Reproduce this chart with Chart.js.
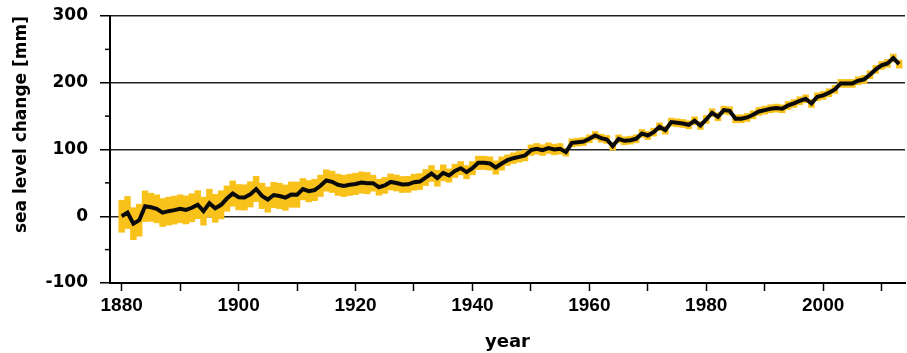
<!DOCTYPE html>
<html>
<head>
<meta charset="utf-8">
<script src="https://cdn.jsdelivr.net/npm/chart.js@4.4.1/dist/chart.umd.min.js"></script>
<style>
  html, body { margin: 0; padding: 0; background: #fff; }
  #wrap { width: 907px; height: 353px; }
</style>
</head>
<body>
<div id="wrap"><canvas id="sea-chart"></canvas></div>
<script>
const years = [
  1880, 1881, 1882, 1883, 1884, 1885, 1886, 1887, 1888, 1889,
  1890, 1891, 1892, 1893, 1894, 1895, 1896, 1897, 1898, 1899,
  1900, 1901, 1902, 1903, 1904, 1905, 1906, 1907, 1908, 1909,
  1910, 1911, 1912, 1913, 1914, 1915, 1916, 1917, 1918, 1919,
  1920, 1921, 1922, 1923, 1924, 1925, 1926, 1927, 1928, 1929,
  1930, 1931, 1932, 1933, 1934, 1935, 1936, 1937, 1938, 1939,
  1940, 1941, 1942, 1943, 1944, 1945, 1946, 1947, 1948, 1949,
  1950, 1951, 1952, 1953, 1954, 1955, 1956, 1957, 1958, 1959,
  1960, 1961, 1962, 1963, 1964, 1965, 1966, 1967, 1968, 1969,
  1970, 1971, 1972, 1973, 1974, 1975, 1976, 1977, 1978, 1979,
  1980, 1981, 1982, 1983, 1984, 1985, 1986, 1987, 1988, 1989,
  1990, 1991, 1992, 1993, 1994, 1995, 1996, 1997, 1998, 1999,
  2000, 2001, 2002, 2003, 2004, 2005, 2006, 2007, 2008, 2009,
  2010, 2011, 2012, 2013
];

// sea level change in mm (relative to 1880)
const seaLevel = [
  0, 5.6, -11.2, -5.9, 15.0, 13.5, 11.1, 5.5, 7.6, 9.2,
  11.2, 9.5, 12.7, 17.4, 7.7, 19.5, 11.9, 17.1, 26.5, 34.0,
  28.6, 28.2, 32.8, 40.8, 30.5, 25.0, 31.8, 30.4, 27.9, 32.4,
  32.3, 40.6, 37.5, 39.3, 45.6, 53.5, 51.6, 47.1, 45.5, 47.1,
  48.4, 50.5, 49.6, 49.5, 43.5, 46.2, 51.4, 49.8, 47.5, 47.8,
  51, 52, 58, 64, 57, 65, 61, 68, 72, 66,
  72, 80, 80, 79, 73, 79, 84, 87, 89, 91,
  99, 101, 99, 102, 100, 101, 96, 110, 111, 112,
  116, 121, 117, 115, 105, 116, 113, 114, 116, 124,
  121, 126, 134, 129, 141, 140, 139, 137, 143, 136,
  145, 155, 149, 159, 158, 146, 146, 148, 152, 157,
  159, 161, 162, 161, 166, 169, 173, 176, 169, 179,
  181, 185, 190, 199, 199, 199, 203, 205, 212, 220,
  226, 229, 237, 228
];

// half width of the uncertainty band, mm
const errorMm = [
  24, 24, 24, 24, 23, 21, 21, 21, 21, 21,
  21, 21, 21, 21, 21, 21, 21, 21, 19, 19,
  19, 19, 19, 19, 19, 19, 19, 19, 19, 19,
  19, 16, 16, 16, 16, 16, 16, 16, 16, 16,
  16, 16, 16, 12, 12, 12, 12, 12, 12, 12,
  12, 12, 12, 12, 12, 12, 10, 10, 10, 10,
  10, 10, 10, 10, 10, 10, 8, 8, 8, 8,
  8, 8, 8, 8, 8, 8, 6, 6, 6, 6,
  6, 6, 6, 6, 6, 6, 6, 6, 6, 6,
  6, 6, 6, 6, 6, 6, 6, 6, 6, 6,
  6, 6, 6, 6, 6, 6, 6, 6, 6, 6,
  6, 6, 6, 6, 6, 6, 6, 6, 6, 6,
  6, 6, 6, 6, 6, 6, 6, 6, 6, 6,
  6, 6, 6, 6
];

const xTicks = [1880, 1890, 1900, 1910, 1920, 1930, 1940, 1950, 1960, 1970, 1980, 1990, 2000, 2010];
const yTicks = [-100, 0, 100, 200, 300];
const yMinor = [-50, 50, 150, 250];

const lineData = years.map((yr, i) => ({ x: yr, y: seaLevel[i] }));
const bandData = years.map((yr, i) => ({ x: yr, y: [seaLevel[i] - errorMm[i], seaLevel[i] + errorMm[i]] }));

const wideBold = { family: 'DejaVu Sans, Verdana, sans-serif', size: 17, weight: 'bold' };

// short ticks at the 50s on the y axis
const minorTicks = {
  id: 'minorTicks',
  afterDraw(chart) {
    const { ctx, scales: { y } } = chart;
    ctx.save();
    ctx.strokeStyle = '#000';
    ctx.lineWidth = 1.5;
    yMinor.forEach(v => {
      const py = y.getPixelForValue(v);
      ctx.beginPath();
      ctx.moveTo(y.right - 5, py);
      ctx.lineTo(y.right, py);
      ctx.stroke();
    });
    ctx.restore();
  }
};

const ctx = document.getElementById('sea-chart').getContext('2d');
new Chart(ctx, {
  type: 'line',
  data: {
    datasets: [{
      type: 'line',
      label: 'sea level',
      data: lineData,
      borderColor: '#0a0a0a',
      borderWidth: 4,
      pointRadius: 0,
      tension: 0,
      order: 0
    }, {
      type: 'bar',
      label: 'uncertainty',
      data: bandData,
      backgroundColor: '#F9C21B',
      borderWidth: 0,
      barPercentage: 1,
      categoryPercentage: 1,
      order: 1
    }]
  },
  options: {
    responsive: true,
    maintainAspectRatio: false,
    animation: false,
    layout: { padding: { left: 0, top: 16, right: 2, bottom: 0 } },
    plugins: { legend: { display: false }, tooltip: { enabled: false } },
    scales: {
      x: {
        type: 'linear',
        min: 1878,
        max: 2014,
        offset: false,
        afterBuildTicks: scale => { scale.ticks = xTicks.map(v => ({ value: v })); },
        afterFit: scale => { scale.height = 70; scale.paddingLeft = 0; scale.paddingRight = 0; },
        ticks: {
          color: '#000',
          font: { family: 'Liberation Sans, Arial, sans-serif', size: 19, weight: 'bold' },
          padding: 3,
          maxRotation: 0,
          callback: v => (v % 20 === 0 ? String(v) : '')
        },
        grid: { offset: false, drawOnChartArea: false, drawTicks: true, tickLength: 8, tickColor: '#000', tickWidth: 1.5 },
        border: { color: '#000', width: 2 },
        title: {
          display: true,
          text: 'year',
          color: '#000',
          font: { family: 'DejaVu Sans, Verdana, sans-serif', size: 18, weight: 'bold' },
          padding: { top: 1, bottom: 0 }
        }
      },
      y: {
        min: -100,
        max: 300,
        afterBuildTicks: scale => { scale.ticks = yTicks.map(v => ({ value: v })); },
        afterFit: scale => { scale.width = 110; scale.paddingTop = 0; scale.paddingBottom = 0; },
        ticks: { color: '#000', font: wideBold, padding: 12 },
        grid: {
          color: c => (c.tick && c.tick.value === -100 ? 'rgba(0,0,0,0)' : '#222'),
          lineWidth: 1.5,
          tickLength: 10,
          tickColor: '#000',
          tickWidth: 1.5
        },
        border: { color: '#000', width: 2 },
        title: {
          display: true,
          text: 'sea level change [mm]',
          color: '#000',
          align: 'end',
          font: wideBold,
          padding: { top: 11, bottom: 0 }
        }
      }
    }
  },
  plugins: [minorTicks]
});
</script>
</body>
</html>
